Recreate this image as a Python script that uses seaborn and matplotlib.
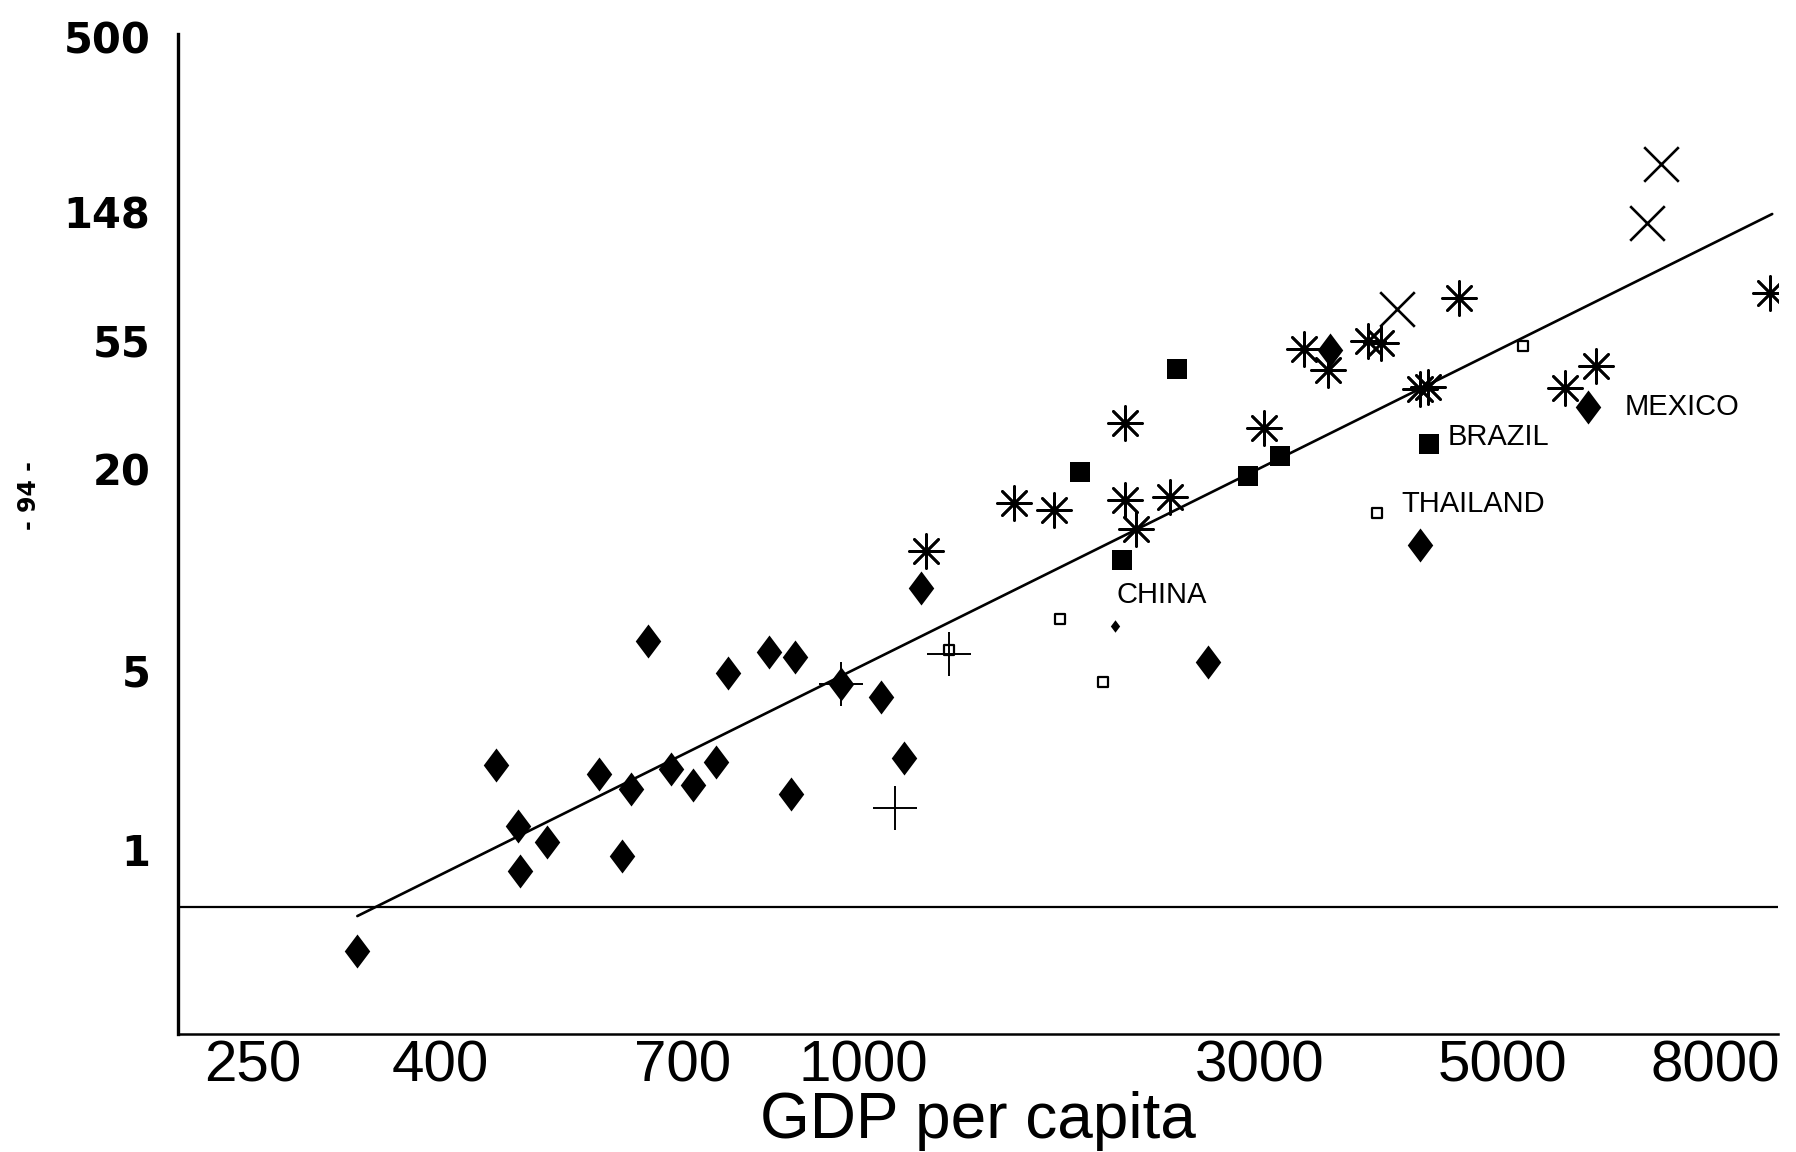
import matplotlib
matplotlib.use('Agg')
import matplotlib.pyplot as plt
from matplotlib import font_manager
import numpy as np
import pandas as pd
import seaborn as sns

sns.set_style('white')
plt.rcParams['font.family'] = ['Liberation Sans', 'DejaVu Sans']
plt.rcParams.update({'text.color': 'black', 'axes.labelcolor': 'black',
                     'xtick.color': 'black', 'ytick.color': 'black'})

# ── Data (GDP per capita vs. value, log-log) ──
diamond_gdp = [321, 447, 472, 474, 505, 572, 618, 604, 644, 680, 716, 757,
               780, 859, 914, 907, 1021, 1123, 1187, 1237, 2457, 3286, 4080, 6092]
diamond_val = [0.48, 2.03, 1.26, 0.89, 1.11, 1.89, 1.68, 1.00, 5.30, 1.96, 1.74, 2.08,
               4.13, 4.85, 4.68, 1.62, 3.81, 3.43, 2.14, 7.97, 4.51, 50.6, 11.2, 32.5]

small_diamond_gdp = [1967]
small_diamond_val = [5.94]

square_gdp = [1811, 2000, 2281, 2704, 2920, 4171]
square_val = [19.7, 9.95, 43.9, 19.05, 22.35, 24.4]

open_square_gdp = [1321, 1724, 1913, 3677, 5226]
open_square_val = [4.93, 6.27, 3.85, 14.3, 52.5]

plus_gdp = [1021, 1161, 1321]
plus_val = [3.81, 1.45, 4.80]

star_gdp = [1251, 1545, 1700, 2016, 2016, 2066, 2244, 2810, 3093, 3277, 3607, 3718,
            4080, 4159, 4481, 5767, 6211, 9425]
star_val = [10.7, 15.5, 14.6, 28.7, 15.8, 12.65, 16.2, 27.7, 51.1, 43.5, 54.4, 53.4,
            37.4, 38.1, 76.2, 37.8, 44.7, 79.0]

cross_gdp = [3863, 7027, 7262]
cross_val = [69.7, 135.8, 215.6]

fit_gdp = [321, 9477]
fit_val = [0.627, 145.8]
base_val = 0.673

# country labels: name, gdp, value (left edge of text)
label_names = ['CHINA', 'BRAZIL', 'THAILAND', 'MEXICO']
label_gdp = [1972, 4359, 3906, 6651]
label_val = [7.55, 25.8, 15.4, 32.5]

# tick labels as printed (positions as placed on the page)
xtick_pos = [250, 391, 699, 1078, 2779, 4970, 8264]
xtick_lab = ['250', '400', '700', '1000', '3000', '5000', '8000']
ytick_pos = [578, 148.4, 54.9, 20.1, 4.24, 1.05]
ytick_lab = ['500', '148', '55', '20', '5', '1']

# ── Build one long table ────────────────────────────────────────────────
groups = {
    'diamond': (diamond_gdp, diamond_val),
    'small_diamond': (small_diamond_gdp, small_diamond_val),
    'square': (square_gdp, square_val),
    'open_square': (open_square_gdp, open_square_val),
    'plus': (plus_gdp, plus_val),
    'star': (star_gdp, star_val),
    'cross': (cross_gdp, cross_val),
}
df = pd.concat([pd.DataFrame({'gdp': g, 'value': v, 'kind': k})
                for k, (g, v) in groups.items()], ignore_index=True)

diamond_path = [(0, 1), (0.75, 0), (0, -1), (-0.75, 0), (0, 1)]
styles = {
    'diamond': dict(marker=diamond_path, s=600, color='black', edgecolor='black', linewidth=0),
    'small_diamond': dict(marker=diamond_path, s=80, color='black', edgecolor='black', linewidth=0),
    'square': dict(marker='s', s=196, color='black', edgecolor='black', linewidth=0),
    'open_square': dict(marker='s', s=60, facecolor='white', edgecolor='black', linewidth=1.6),
    'plus': dict(marker='+', s=1024, color='black', linewidth=1.4),
    'star': dict(marker=(8, 2, 0), s=600, color='black', linewidth=1.9),
    'cross': dict(marker='x', s=620, color='black', linewidth=1.9),
}

# ── Figure ──────────────────────────────────────────────────────────────
fig = plt.figure(figsize=(17.96, 11.52), dpi=100)
ax = fig.add_axes([0.0991, 0.1024, 0.8909, 0.868])

ax.axhline(base_val, color='black', lw=1.6, zorder=1)
sns.lineplot(x=fit_gdp, y=fit_val, ax=ax, color='black', lw=1.9, zorder=2)

for kind, kw in styles.items():
    sub = df[df['kind'] == kind]
    sns.scatterplot(data=sub, x='gdp', y='value', ax=ax, zorder=3, legend=False, **kw)

for name, gx, gy in zip(label_names, label_gdp, label_val):
    ax.text(gx, gy, name, ha='left', va='center', fontsize=21, color='black')

ax.set_xscale('log')
ax.set_yscale('log')
ax.set_xlim(209, 9610)
ax.set_ylim(0.251, 589)
ax.minorticks_off()

fam_names = {f.name for f in font_manager.fontManager.ttflist}
if 'Liberation Sans Narrow' in fam_names:
    xt_family, xt_size = 'Liberation Sans Narrow', 48
else:
    xt_family, xt_size = 'Liberation Sans', 42

ax.set_xticks(xtick_pos)
ax.set_xticklabels(xtick_lab, fontsize=xt_size, family=xt_family)
ax.set_yticks(ytick_pos)
ax.set_yticklabels(ytick_lab, fontsize=30, fontweight='bold', family='DejaVu Sans')
ax.minorticks_off()
ax.tick_params(axis='x', length=0, pad=4)
ax.tick_params(axis='y', length=0, pad=20)

ax.set_xlabel('GDP per capita', fontsize=46, labelpad=-2)
ax.set_ylabel('')

for side in ['top', 'right']:
    ax.spines[side].set_visible(False)
ax.spines['left'].set_linewidth(2.4)
ax.spines['bottom'].set_linewidth(1.8)
ax.spines['left'].set_color('black')
ax.spines['bottom'].set_color('black')

fig.text(0.016, 0.570, '- 94 -', rotation=90, ha='center', va='center',
         fontsize=17, fontweight='bold', family='DejaVu Sans')

fig.savefig('out.png', dpi=100, facecolor='white')
